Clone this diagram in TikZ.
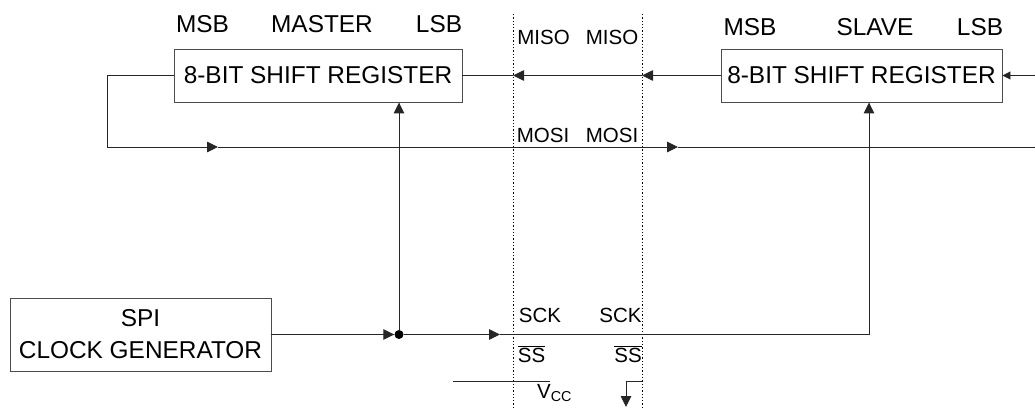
\documentclass[tikz,border=0pt]{standalone}
\usepackage{fontspec}
\setmainfont{Liberation Sans}
\usetikzlibrary{arrows.meta}

\begin{document}
\begin{tikzpicture}[
    x=1pt, y=-1pt,
    >={Triangle[length=11pt,width=10.5pt]},
    wire/.style={black!85, line width=0.9pt},
    regbox/.style={draw=black!70, line width=0.9pt, minimum width=288pt,
      minimum height=53pt, inner sep=0pt, text=black,
      font=\fontsize{24.4}{32}\selectfont},
    tag/.style={inner sep=0pt, text=black, font=\fontsize{24.4}{32}\selectfont},
    pin/.style={inner sep=0pt, text=black, font=\fontsize{20.5}{24}\selectfont},
    bound/.style={black, line width=1pt, dash pattern=on 1.3pt off 2pt},
    junc/.style={circle, fill=black, inner sep=0pt, minimum size=9pt},
  ]

  \useasboundingbox (0,0) rectangle (1035,409);

  % registers and clock generator
  \node[regbox] (master) at (318,75.5) {8-BIT SHIFT REGISTER};
  \node[regbox, minimum width=281pt] (slave) at (861.5,75.5) {8-BIT SHIFT REGISTER};
  \node[regbox, minimum width=261pt, minimum height=73pt, align=center]
    (clk) at (140.5,334.5) {SPI\\CLOCK GENERATOR};

  % bit order and device names
  \node[tag] (mmsb) at (202.5,24) {MSB};
  \node[tag] (mname) at (322,24) {MASTER};
  \node[tag] (mlsb) at (439,24) {LSB};
  \node[tag] (smsb) at (750,27) {MSB};
  \node[tag] (sname) at (875,27) {SLAVE};
  \node[tag] (slsb) at (980,27) {LSB};

  % pin names between the boundaries
  \node[pin] (misoM) at (543.5,37) {MISO};
  \node[pin] (misoS) at (612,37) {MISO};
  \node[pin] (mosiM) at (543,135) {MOSI};
  \node[pin] (mosiS) at (612,135) {MOSI};
  \node[pin] (sckM) at (540,315) {SCK};
  \node[pin] (sckS) at (620.5,315) {SCK};
  \node[pin] (ssM) at (531.5,354) {$\overline{\hbox{SS}}$};
  \node[pin] (ssS) at (628,354) {$\overline{\hbox{SS}}$};
  \node[pin, anchor=base west] (vcc) at (537,398) {V\textsubscript{CC}};

  % chip boundaries
  \coordinate (bndLt) at (513,14);
  \coordinate (bndLb) at (513,409);
  \coordinate (bndRt) at (642,14);
  \coordinate (bndRb) at (642,409);
  \draw[bound] (bndLt) -- (bndLb);
  \draw[bound] (bndRt) -- (bndRb);

  % MISO
  \coordinate (misoR) at (642,75.5);
  \coordinate (misoL) at (513,75.5);
  \coordinate (slaveIn) at (1035,75.5);
  \draw[wire, ->] (slave.west) -- (misoR);
  \draw[wire, ->] (misoR) -- (misoL);
  \draw[wire] (misoL) -- (master.east);
  \draw[wire, -{Triangle[length=8pt,width=8pt]}] (slaveIn) -- (slave.east);

  % MOSI
  \coordinate (fbCorner) at (107,147);
  \coordinate (mosiA) at (218,147);
  \coordinate (mosiB) at (678,147);
  \coordinate (mosiR) at (1035,147);
  \draw[wire, ->] (master.west) -| (fbCorner) -- (mosiA);
  \draw[wire, ->] (mosiA) -- (mosiB);
  \draw[wire] (mosiB) -- (mosiR);

  % SCK
  \node[junc] (split) at (399,334.5) {};
  \coordinate (sckA) at (500,334.5);
  \coordinate (sckC) at (869,334.5);
  \draw[wire, ->] (clk.east) -- (split.west);
  \draw[wire, ->] (split) -- (split |- master.south);
  \draw[wire, ->] (split) -- (sckA);
  \draw[wire, ->] (sckA) -- (sckC) -- (sckC |- slave.south);

  % SS
  \coordinate (vccL) at (453,381);
  \coordinate (vccR) at (550,381);
  \coordinate (ssR) at (642,381);
  \coordinate (ssD) at (626,407);
  \draw[wire] (vccL) -- (vccR);
  \draw[wire, ->] (ssR) -| (ssD);

\end{tikzpicture}
\end{document}
